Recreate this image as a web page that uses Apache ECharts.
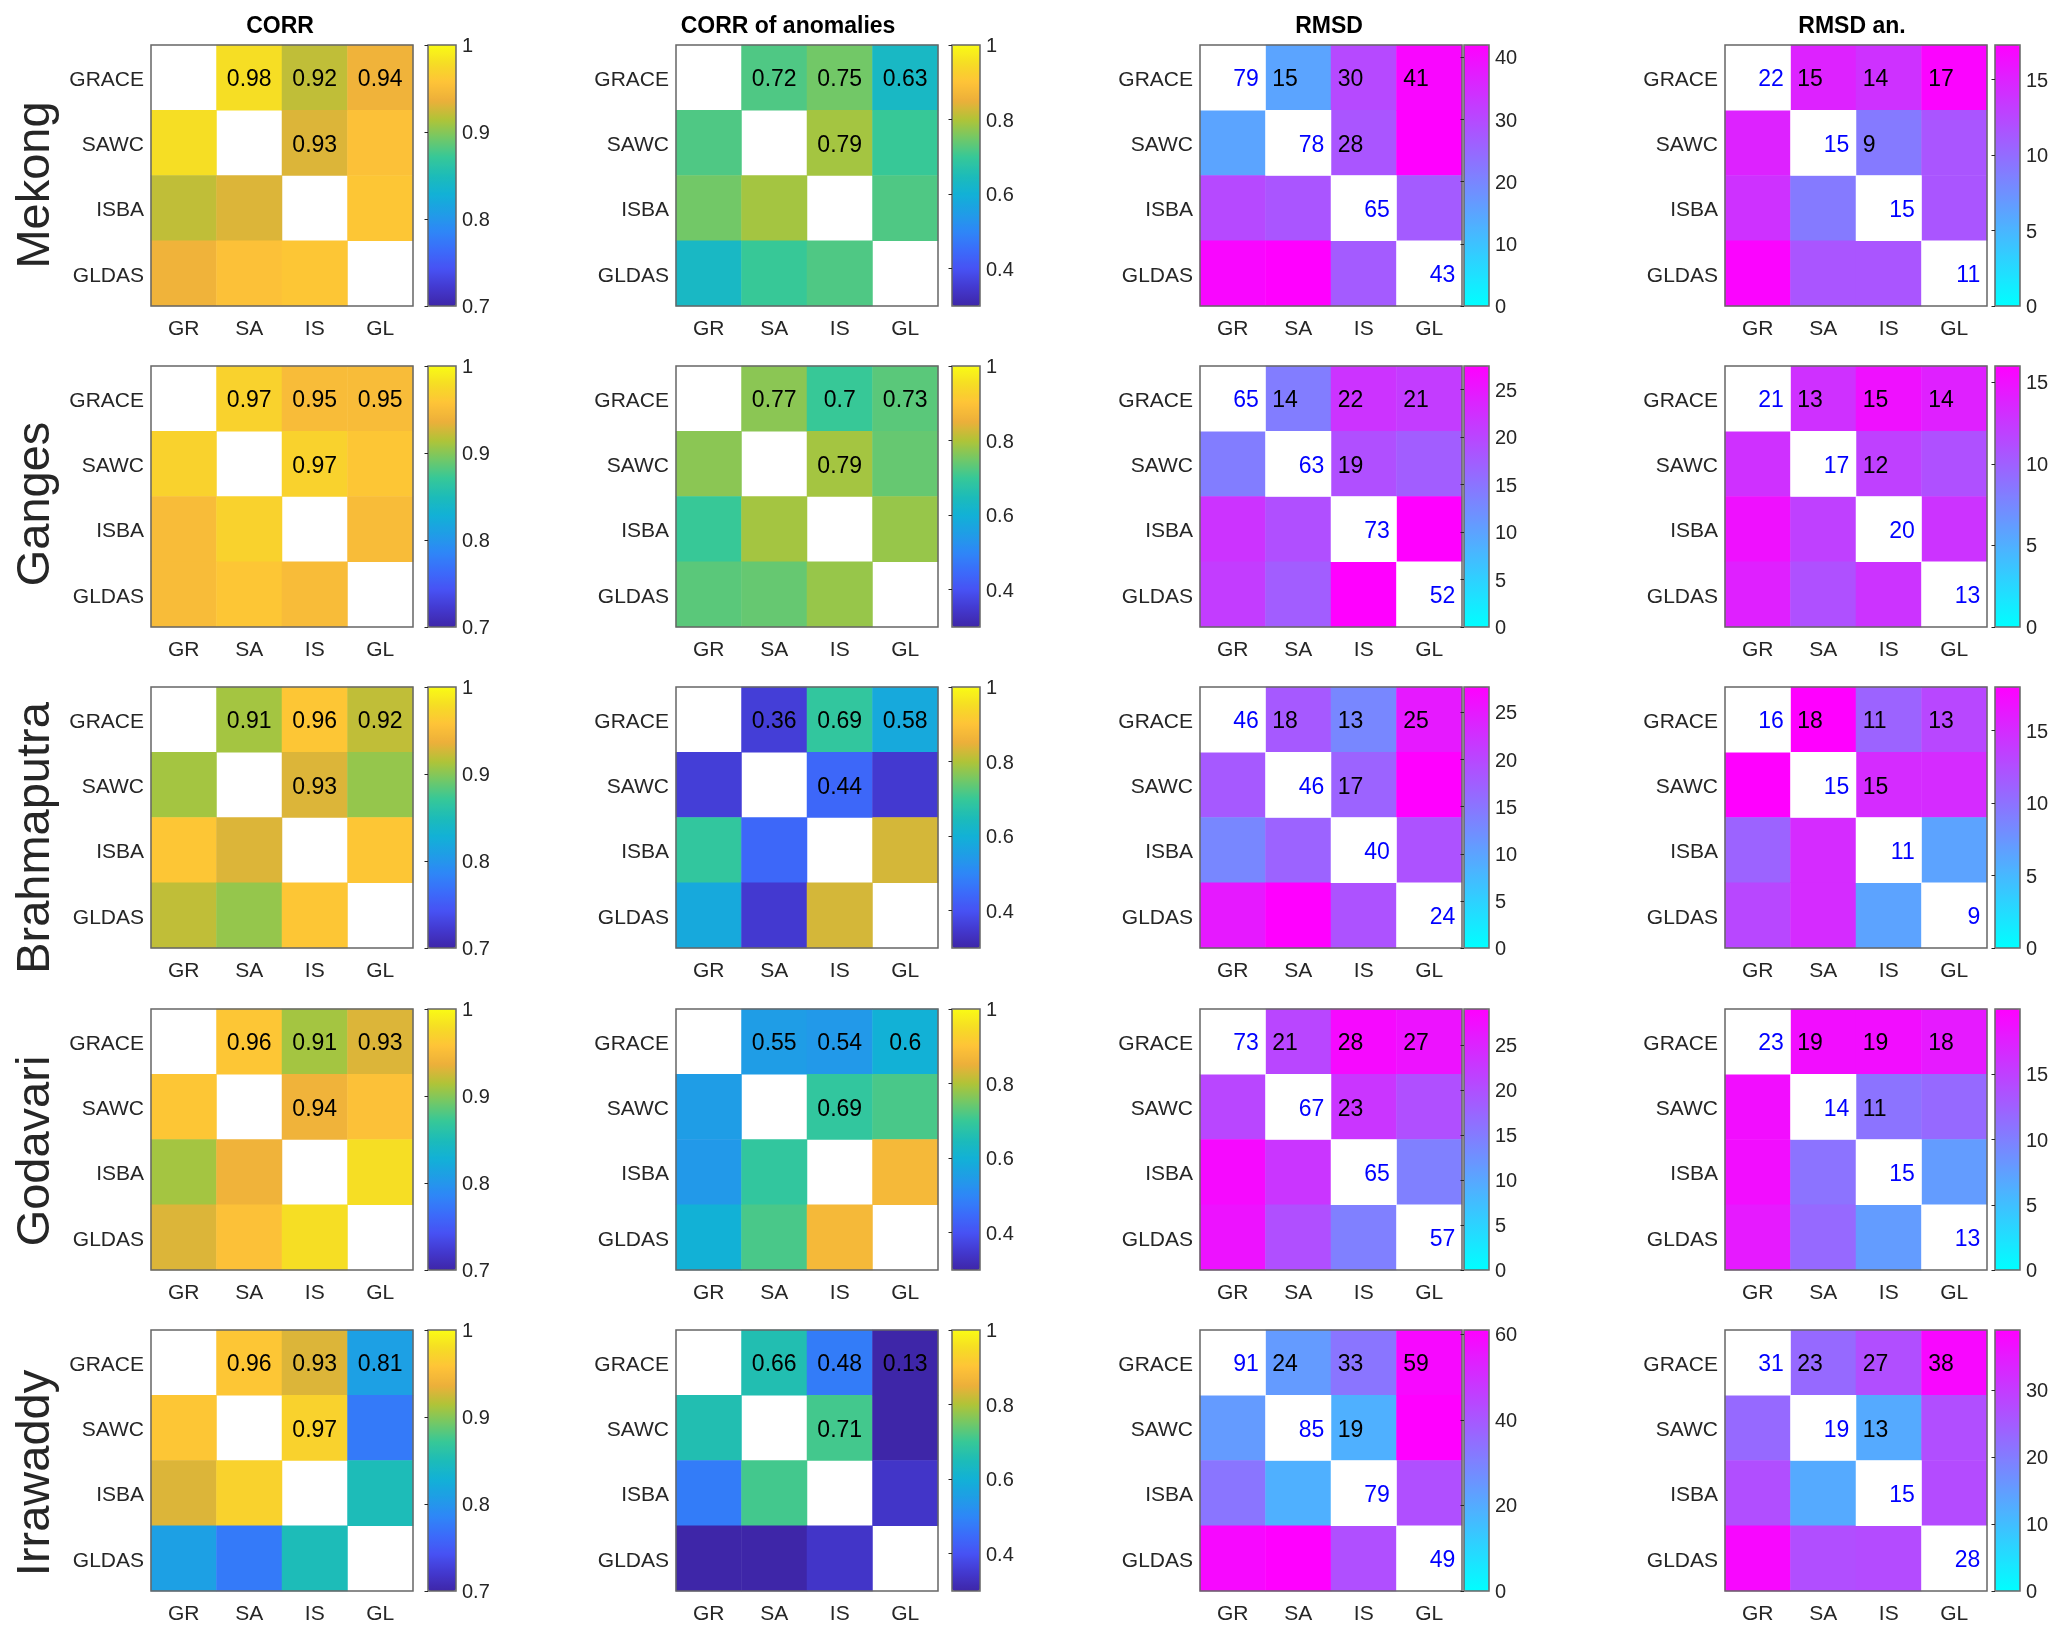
<!DOCTYPE html>
<html>
<head>
<meta charset="utf-8">
<title>CORR / RMSD matrices</title>
<script src="https://cdn.jsdelivr.net/npm/echarts@6/dist/echarts.min.js"></script>
<style>
  html, body { margin: 0; padding: 0; background: #fff; }
  #chart { width: 2067px; height: 1637px; }
</style>
</head>
<body>
<div id="chart"></div>
<script>
// rows = basins, columns = metric
const basins = ['Mekong', 'Ganges', 'Brahmaputra', 'Godavari', 'Irrawaddy'];
const rowNames = ['GRACE', 'SAWC', 'ISBA', 'GLDAS'];
const colNames = ['GR', 'SA', 'IS', 'GL'];
const panelTitles = ['CORR', 'CORR of anomalies', 'RMSD', 'RMSD an.'];

// symmetric matrices, upper triangle in pair order:
// GR-SA, GR-IS, GR-GL, SA-IS, SA-GL, IS-GL  (first four are printed)
const corr = [
  [0.98, 0.92, 0.94, 0.93, 0.955, 0.96],
  [0.97, 0.95, 0.95, 0.97, 0.96, 0.95],
  [0.91, 0.96, 0.92, 0.93, 0.905, 0.96],
  [0.96, 0.91, 0.93, 0.94, 0.955, 0.98],
  [0.96, 0.93, 0.81, 0.97, 0.775, 0.85]
];
const corrAnom = [
  [0.72, 0.75, 0.63, 0.79, 0.70, 0.72],
  [0.77, 0.7, 0.73, 0.79, 0.74, 0.78],
  [0.36, 0.69, 0.58, 0.44, 0.35, 0.83],
  [0.55, 0.54, 0.6, 0.69, 0.715, 0.875],
  [0.66, 0.48, 0.13, 0.71, 0.2, 0.34]
];
const rmsd = [
  [15, 30, 41, 28, 42, 27],
  [14, 22, 21, 19, 17.5, 27.5],
  [18, 13, 25, 17, 27.7, 18.8],
  [21, 28, 27, 23, 20, 14.5],
  [24, 33, 59, 19, 61, 42]
];
const rmsdAn = [
  [15, 14, 17, 9, 11.5, 11.5],
  [13, 15, 14, 12, 11, 12.8],
  [18, 11, 13, 15, 15, 6.5],
  [19, 19, 18, 11, 11.8, 7.8],
  [23, 27, 38, 13, 27, 27.5]
];
// diagonal numbers (blue) of the RMSD panels
const rmsdDiag = [
  [79, 78, 65, 43],
  [65, 63, 73, 52],
  [46, 46, 40, 24],
  [73, 67, 65, 57],
  [91, 85, 79, 49]
];
const rmsdAnDiag = [
  [22, 15, 15, 11],
  [21, 17, 20, 13],
  [16, 15, 11, 9],
  [23, 14, 15, 13],
  [31, 19, 15, 28]
];

// colour bar ranges and ticks
const corrRange = [0.7, 1];
const corrTicks = [0.7, 0.8, 0.9, 1];
const anomRange = [0.3, 1];
const anomTicks = [0.4, 0.6, 0.8, 1];
const rmsdMax = [42, 27.5, 27.7, 29, 61];
const rmsdTicks = [[0, 10, 20, 30, 40], [0, 5, 10, 15, 20, 25], [0, 5, 10, 15, 20, 25], [0, 5, 10, 15, 20, 25], [0, 20, 40, 60]];
const rmsdAnMax = [17.3, 16, 18, 20, 39];
const rmsdAnTicks = [[0, 5, 10, 15], [0, 5, 10, 15], [0, 5, 10, 15], [0, 5, 10, 15], [0, 10, 20, 30]];

// colormaps (MATLAB parula and cool)
const parula = ['#3E26A8', '#4339D0', '#4752F4', '#3B6CFA', '#2E87F7', '#1F9DE6', '#12B1D6', '#1DBCB8',
  '#37C897', '#72C867', '#B0C437', '#ECAF3A', '#FEC338', '#F6DC25', '#F9FB15'];
const cool = ['#00FFFF', '#FF00FF'];

// layout
const FONT = '"Liberation Sans", Arial, Helvetica, sans-serif';
const AX = '#262626';
const FRAME = '#666666';
const colX = [151, 676, 1200, 1725];
const rowY = [45, 366, 687, 1009, 1330];
const cellW = 262, cellH = 261;
const cbX = [428, 952, 1464, 1995];
const cbW = [28, 28, 25, 25];
const titleX = [280, 788, 1329, 1852];
const rowLabelY = [185, 504, 838, 1151, 1473];

const pairs = [[0, 1], [0, 2], [0, 3], [1, 2], [1, 3], [2, 3]];

const grids = [], xAxes = [], yAxes = [], series = [], visualMaps = [];

function tickStyle() {
  return { inside: true, length: 3.5, alignWithLabel: true, lineStyle: { color: AX, width: 1 } };
}

function addPanel(r, c, vals, diag, vmin, vmax, ticks, cmap) {
  const gi = grids.length;
  grids.push({ left: colX[c], top: rowY[r], width: cellW, height: cellH, show: true,
    borderColor: FRAME, borderWidth: 1.5, backgroundColor: 'transparent', z: 10 });
  const xi = xAxes.length;
  xAxes.push({ type: 'category', gridIndex: gi, data: colNames, position: 'bottom', z: 10,
    axisLine: { show: false }, axisTick: tickStyle(),
    axisLabel: { fontSize: 21, color: AX, fontFamily: FONT, margin: 13 } });
  xAxes.push({ type: 'category', gridIndex: gi, data: colNames, position: 'top', z: 10,
    axisLine: { show: false }, axisTick: tickStyle(), axisLabel: { show: false } });
  const yi = yAxes.length;
  yAxes.push({ type: 'category', gridIndex: gi, data: rowNames, inverse: true, position: 'left', z: 10,
    axisLine: { show: false }, axisTick: tickStyle(),
    axisLabel: { margin: 7, formatter: v => '{a|' + v + '}',
      rich: { a: { fontSize: 21, color: AX, fontFamily: FONT, padding: [5, 0, 0, 0] } } } });
  yAxes.push({ type: 'category', gridIndex: gi, data: rowNames, inverse: true, position: 'right', z: 10,
    axisLine: { show: false }, axisTick: tickStyle(), axisLabel: { show: false } });

  const isCorr = diag === null;
  const data = [];
  pairs.forEach(([i, j], k) => {
    data.push({ value: [j, i, vals[k]], label: { show: k < 4 } });
    data.push({ value: [i, j, vals[k]], label: { show: false } });
  });
  const si = series.length;
  series.push({
    type: 'heatmap', xAxisIndex: xi, yAxisIndex: yi, data: data,
    emphasis: { disabled: true },
    label: {
      position: isCorr ? 'inside' : 'insideLeft', distance: 7, offset: [0, 2.5],
      color: '#000', fontSize: 23, fontFamily: FONT,
      formatter: p => String(p.value[2])
    }
  });
  if (!isCorr) {
    series.push({
      type: 'heatmap', xAxisIndex: xi, yAxisIndex: yi,
      data: diag.map((v, i) => [i, i, v]),
      itemStyle: { color: '#fff' },
      emphasis: { disabled: true },
      label: { show: true, position: 'insideRight', distance: 7, offset: [0, 2.5], color: '#0000FF',
        fontSize: 23, fontFamily: FONT, formatter: p => String(p.value[2]) }
    });
  }
  visualMaps.push({
    type: 'continuous', seriesIndex: si, min: vmin, max: vmax,
    inRange: { color: cmap }, orient: 'vertical', calculable: false, hoverLink: false,
    left: cbX[c], top: rowY[r], itemWidth: cbW[c], itemHeight: cellH, padding: 0,
    text: null, showLabel: false
  });

  // colour bar frame + ticks
  const cg = grids.length;
  grids.push({ left: cbX[c], top: rowY[r], width: cbW[c], height: cellH, show: true,
    borderColor: FRAME, borderWidth: 1.5, backgroundColor: 'transparent', z: 10 });
  xAxes.push({ type: 'value', gridIndex: cg, show: false, min: 0, max: 1 });
  yAxes.push({ type: 'value', gridIndex: cg, min: vmin, max: vmax, position: 'right', z: 10,
    axisLine: { show: false }, splitLine: { show: false },
    axisTick: { inside: true, length: 3.5, customValues: ticks, lineStyle: { color: AX } },
    axisLabel: { customValues: ticks, margin: 6, formatter: v => '{a|' + v + '}',
      rich: { a: { fontSize: 20, color: AX, fontFamily: FONT, padding: [3, 0, 0, 0] } } } });
}

basins.forEach((b, r) => {
  addPanel(r, 0, corr[r], null, corrRange[0], corrRange[1], corrTicks, parula);
  addPanel(r, 1, corrAnom[r], null, anomRange[0], anomRange[1], anomTicks, parula);
  addPanel(r, 2, rmsd[r], rmsdDiag[r], 0, rmsdMax[r], rmsdTicks[r], cool);
  addPanel(r, 3, rmsdAn[r], rmsdAnDiag[r], 0, rmsdAnMax[r], rmsdAnTicks[r], cool);
});

const option = {
  backgroundColor: '#fff',
  animation: false,
  title: panelTitles.map((t, c) => ({
    text: t, left: titleX[c], top: 15.5, textAlign: 'center', padding: 0,
    textStyle: { fontSize: 23, fontWeight: 'bold', color: '#000', fontFamily: FONT }
  })),
  grid: grids,
  xAxis: xAxes,
  yAxis: yAxes,
  visualMap: visualMaps,
  series: series,
  graphic: basins.map((b, r) => ({
    type: 'text', x: 36, y: rowLabelY[r], rotation: Math.PI / 2,
    style: { text: b, font: '47px ' + FONT, fill: AX, align: 'center', verticalAlign: 'middle',
      textAlign: 'center', textVerticalAlign: 'middle' }
  }))
};

echarts.init(document.getElementById('chart')).setOption(option);
</script>
</body>
</html>
